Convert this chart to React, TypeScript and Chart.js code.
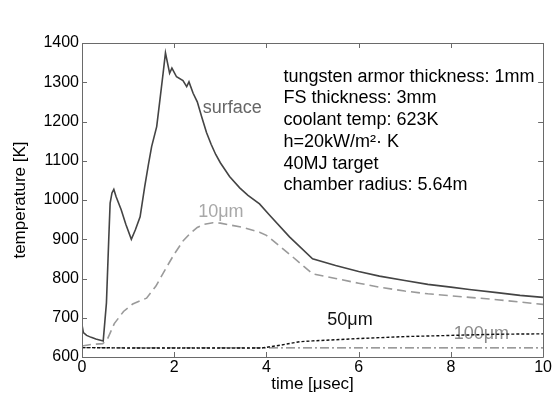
import React, { useEffect, useRef } from "react";
import { Chart, registerables } from "chart.js";

Chart.register(...registerables);

// time [µsec] and temperature [K] per series
const surfaceTime = [0, 0.03, 0.1, 0.2, 0.3, 0.46, 0.53, 0.58, 0.61, 0.65, 0.69, 0.74, 0.85, 0.95, 1.07, 1.16, 1.26, 1.36, 1.44, 1.51, 1.62, 1.69, 1.76, 1.81, 1.9, 1.95, 2.05, 2.19, 2.27, 2.32, 2.41, 2.5, 2.6, 2.7, 2.8, 2.9, 3.0, 3.2, 3.42, 3.6, 3.85, 4.07, 4.5, 5.0, 5.5, 6.0, 6.45, 7.0, 7.5, 8.0, 8.4, 9.0, 9.5, 10];
const surfaceTemp = [682, 662, 655, 650, 646, 641, 738, 900, 992, 1018, 1027, 1008, 975, 938, 900, 925, 957, 1034, 1090, 1136, 1187, 1255, 1324, 1375, 1323, 1336, 1314, 1304, 1289, 1301, 1272, 1250, 1210, 1172, 1142, 1116, 1095, 1060, 1031, 1012, 990, 961, 906, 850, 833, 818, 806, 795, 785, 778, 772, 764, 757, 752];

const um10Time = [0, 0.2, 0.45, 0.55, 0.7, 0.9, 1.1, 1.4, 1.6, 1.83, 2.0, 2.2, 2.34, 2.5, 2.65, 2.84, 3.0, 3.5, 3.85, 4.0, 4.5, 5.0, 5.5, 6.0, 6.45, 7.0, 7.5, 8.0, 8.4, 9.0, 9.5, 10];
const um10Temp = [628, 632, 634, 645, 685, 716, 735, 750, 780, 828, 862, 897, 914, 930, 938, 942, 941, 930, 918, 910, 862, 812, 800, 788, 778, 768, 761, 756, 752, 746, 740, 734];

const um50Time = [0, 1, 2, 3, 3.9, 4.3, 4.72, 5.0, 6.0, 7.0, 8.0, 9.0, 10];
const um50Temp = [624, 623, 623, 623, 623, 630, 639, 641, 647, 652, 655, 658, 659];

const um100Time = [0, 1, 2, 3, 4, 5, 6, 7, 8, 9, 10];
const um100Temp = [624, 623, 623, 623, 623, 623, 623, 623, 623, 623, 623];

const infoLines = [
  "tungsten armor thickness: 1mm",
  "FS thickness: 3mm",
  "coolant temp: 623K",
  "h=20kW/m²· K",
  "40MJ target",
  "chamber radius: 5.64m",
];

// curve labels: text, time, temperature, colour
const curveLabels: [string, number, number, string][] = [
  ["surface", 2.62, 1234, "#666666"],
  ["10μm", 2.52, 970, "#a8a8a8"],
  ["50μm", 5.32, 693, "#111111"],
  ["100μm", 8.06, 658, "#8a8a8a"],
];

const FONT = "Arial, 'Liberation Sans', sans-serif";

function pts(xs: number[], ys: number[]) {
  return xs.map((x, i) => ({ x, y: ys[i] }));
}

const framePlugin = {
  id: "frameTicks",
  beforeDatasetsDraw(chart: any) {
    const { ctx } = chart;
    const xs = chart.scales.x;
    const ys = chart.scales.y;
    ctx.save();
    ctx.textBaseline = "middle";
    ctx.textAlign = "left";
    for (const [t, x, y, c] of curveLabels) {
      ctx.fillStyle = c;
      ctx.font = `18px ${FONT}`;
      ctx.fillText(t, xs.getPixelForValue(x), ys.getPixelForValue(y));
    }
    ctx.fillStyle = "#000";
    ctx.font = `18px ${FONT}`;
    const x0 = xs.getPixelForValue(4.37);
    const y0 = ys.getPixelForValue(1314);
    infoLines.forEach((l, i) => ctx.fillText(l, x0, y0 + i * 21.7));
    ctx.restore();
  },
  afterDatasetsDraw(chart: any) {
    const { ctx, chartArea: a } = chart;
    const xs = chart.scales.x;
    const ys = chart.scales.y;
    ctx.save();
    ctx.strokeStyle = "#6a6a6a";
    ctx.lineWidth = 1;
    ctx.beginPath();
    ctx.rect(Math.round(a.left) + 0.5, Math.round(a.top) + 0.5, Math.round(a.right - a.left), Math.round(a.bottom - a.top));
    const L = 5;
    xs.ticks.forEach((t: any) => {
      const px = Math.round(xs.getPixelForValue(t.value)) + 0.5;
      ctx.moveTo(px, a.bottom);
      ctx.lineTo(px, a.bottom - L);
      ctx.moveTo(px, a.top);
      ctx.lineTo(px, a.top + L);
    });
    ys.ticks.forEach((t: any) => {
      const py = Math.round(ys.getPixelForValue(t.value)) + 0.5;
      ctx.moveTo(a.left, py);
      ctx.lineTo(a.left + L, py);
      ctx.moveTo(a.right, py);
      ctx.lineTo(a.right - L, py);
    });
    ctx.stroke();
    ctx.restore();
  },
};

export default function App() {
  const ref = useRef<HTMLCanvasElement | null>(null);
  useEffect(() => {
    if (!ref.current) return;
    const chart = new Chart(ref.current, {
      type: "line",
      data: {
        datasets: [
          { label: "surface", data: pts(surfaceTime, surfaceTemp), borderColor: "#444444", borderWidth: 1.6 },
          { label: "10um", data: pts(um10Time, um10Temp), borderColor: "#9a9a9a", borderWidth: 1.6, borderDash: [9, 5] },
          { label: "50um", data: pts(um50Time, um50Temp), borderColor: "#111111", borderWidth: 1.4, borderDash: [3, 2] },
          { label: "100um", data: pts(um100Time, um100Temp), borderColor: "#7a7a7a", borderWidth: 1.3, borderDash: [9, 3, 2, 3] },
        ],
      },
      options: {
        animation: false,
        responsive: false,
        maintainAspectRatio: false,
        layout: { padding: { left: 0, top: 43, right: 9, bottom: 0 } },
        elements: { point: { radius: 0 }, line: { tension: 0, fill: false } },
        plugins: { legend: { display: false }, tooltip: { enabled: false } },
        scales: {
          x: {
            type: "linear",
            min: 0,
            max: 10,
            border: { display: false },
            grid: { display: false, drawTicks: false },
            ticks: { stepSize: 2, color: "#000", padding: 1, font: { family: FONT, size: 16 }, callback: (v: any) => String(v) },
            title: { display: true, text: "time [μsec]", color: "#000", font: { family: FONT, size: 17 }, padding: { top: 0, bottom: 3 } },
            afterFit: (s: any) => { s.height = 41; },
          },
          y: {
            type: "linear",
            min: 600,
            max: 1400,
            border: { display: false },
            grid: { display: false, drawTicks: false },
            ticks: { stepSize: 100, color: "#000", padding: 3, font: { family: FONT, size: 16 }, callback: (v: any) => String(v) },
            title: { display: true, text: "temperature [K]", color: "#000", font: { family: FONT, size: 17 }, padding: { top: 10, bottom: 0 } },
            afterFit: (s: any) => { s.width = 82; },
          },
        },
      },
      plugins: [framePlugin],
    });
    return () => chart.destroy();
  }, []);
  return (
    <div style={{ position: "fixed", left: 0, top: 0, width: 553, height: 398, background: "#fff" }}>
      <canvas ref={ref} width={553} height={398} style={{ width: 553, height: 398, display: "block" }} />
    </div>
  );
}
